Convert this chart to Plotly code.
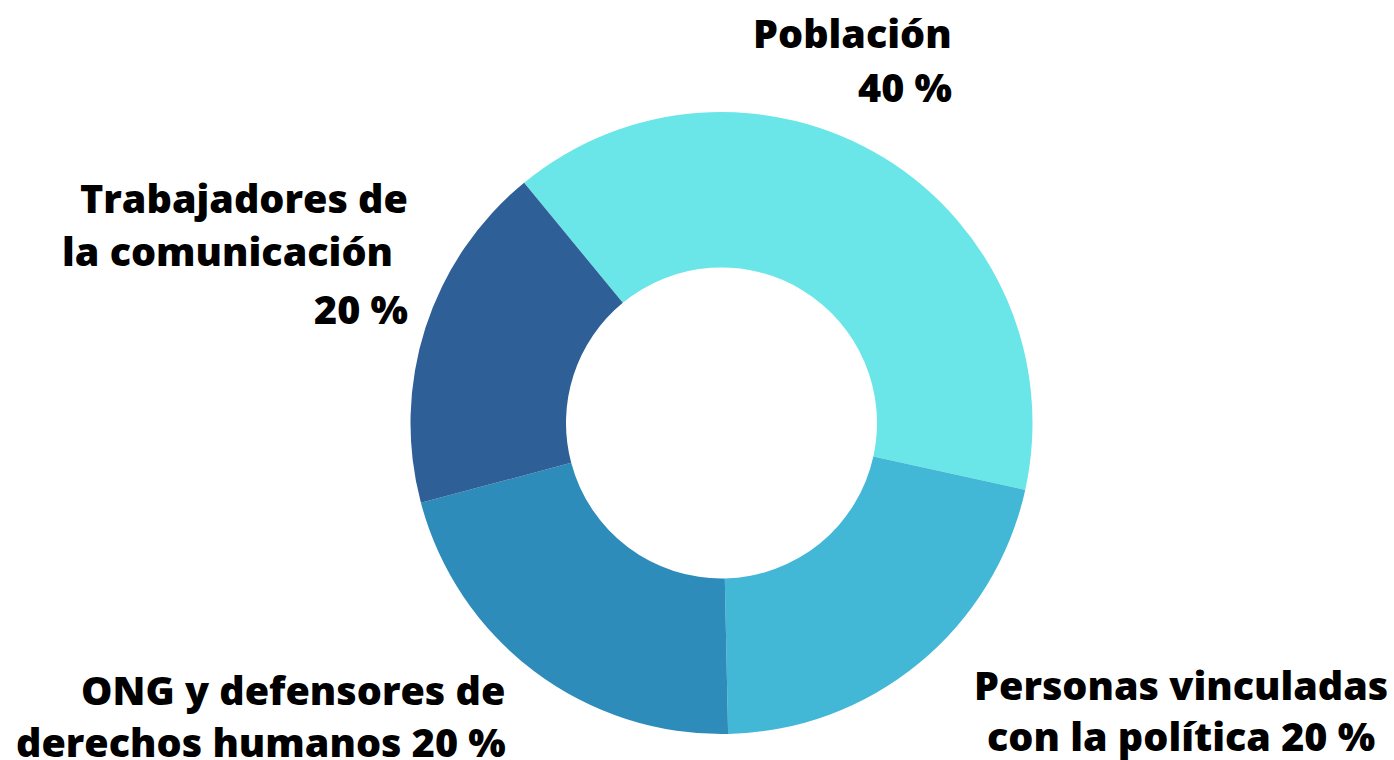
import plotly.graph_objects as go

# Data
categories = ["Población", "Personas vinculadas con la política",
              "ONG y defensores de derechos humanos", "Trabajadores de la comunicación"]
values = [13, 7, 7, 6]
colors = ["#6ae5e8", "#42b7d6", "#2e8cba", "#2e5f97"]

# Label lines as displayed (text, x px, y px center, anchor)
label_lines = [
    ("Población", 954, 33, "right"),
    ("40 %", 954, 87, "right"),
    ("Trabajadores de", 410, 198, "right"),
    ("la comunicación", 395, 251, "right"),
    ("20 %", 410, 309, "right"),
    ("ONG y defensores de", 507, 690, "right"),
    ("derechos humanos 20 %", 508, 742, "right"),
    ("Personas vinculadas", 1181, 685, "center"),
    ("con la política 20 %", 1181, 736, "center"),
]

W, H = 1394, 760
cx, cy, R = 721.5, 423, 311

fig = go.Figure(go.Pie(
    labels=categories,
    values=values,
    hole=0.5,
    sort=False,
    direction="clockwise",
    rotation=-39.4,
    marker=dict(colors=colors, line=dict(width=0)),
    textinfo="none",
    hoverinfo="label+percent",
    showlegend=False,
    domain=dict(x=[(cx - R) / W, (cx + R) / W],
                y=[(H - cy - R) / H, (H - cy + R) / H]),
))

for text, px, py, anchor in label_lines:
    fig.add_annotation(
        text=text, x=px / W, y=1 - py / H, xref="paper", yref="paper",
        xanchor=anchor, yanchor="middle", showarrow=False,
        font=dict(family="Open Sans", size=39.5, color="#000000", weight=800),
    )

fig.update_layout(
    width=W, height=H,
    margin=dict(l=0, r=0, t=0, b=0),
    paper_bgcolor="white", plot_bgcolor="white",
)

fig.write_html("out.html",
               config={"displayModeBar": False},
               post_script="document.body.style.margin='0';document.body.style.overflow='hidden';")
